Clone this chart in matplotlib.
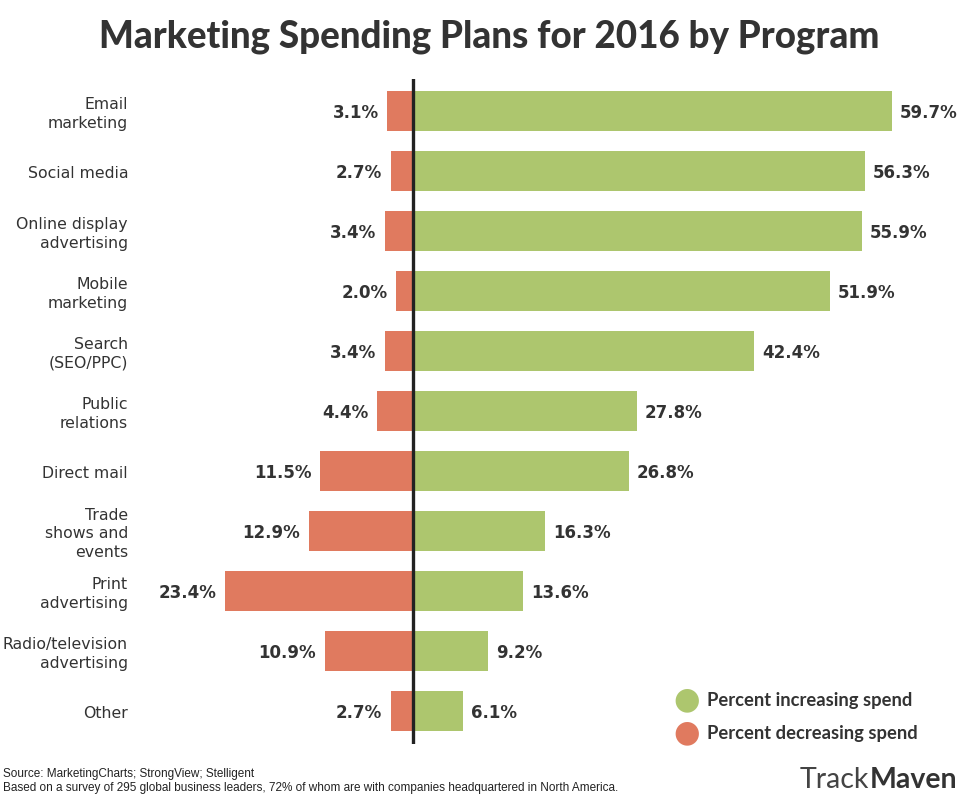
import matplotlib
matplotlib.use("Agg")
import matplotlib.pyplot as plt

categories = ["Email\nmarketing", "Social media", "Online display\nadvertising", "Mobile\nmarketing",
              "Search\n(SEO/PPC)", "Public\nrelations", "Direct mail", "Trade\nshows and\nevents",
              "Print\nadvertising", "Radio/television\nadvertising", "Other"]
increasing = [59.7, 56.3, 55.9, 51.9, 42.4, 27.8, 26.8, 16.3, 13.6, 9.2, 6.1]
decreasing = [3.1, 2.7, 3.4, 2.0, 3.4, 4.4, 11.5, 12.9, 23.4, 10.9, 2.7]

GREEN = "#adc66e"
RED = "#e07a5f"
TXT = "#333333"

W, H = 978, 804
fig = plt.figure(figsize=(W / 100, H / 100), dpi=100)
fig.patch.set_facecolor("white")

ax_l, ax_r, ax_t, ax_b = 200, 960, 80, 745
ax = fig.add_axes([ax_l / W, 1 - ax_b / H, (ax_r - ax_l) / W, (ax_b - ax_t) / H])
scale = 8.0
ax.set_xlim((ax_l - 413) / scale, (ax_r - 413) / scale)
ax.set_ylim((ax_b - 112) / 60, (ax_t - 112) / 60)
for s in ax.spines.values():
    s.set_visible(False)
ax.set_xticks([])
ax.set_yticks([])

ypos = list(range(len(categories)))
ax.barh(ypos, increasing, height=0.67, color=GREEN, left=0.2)
ax.barh(ypos, [-d for d in decreasing], height=0.67, color=RED, left=-0.1)
ax.axvline(0, color="#222222", lw=2.4, zorder=5)

for y, v in zip(ypos, increasing):
    ax.text(v + 1.2, y + 0.02, f"{v:.1f}%", ha="left", va="center", fontsize=12,
            fontweight="bold", color=TXT)
for y, v in zip(ypos, decreasing):
    ax.text(-v - 1.2, y + 0.02, f"{v:.1f}%", ha="right", va="center", fontsize=12,
            fontweight="bold", color=TXT)

for y, c in zip(ypos, categories):
    fig.text(128 / W, 1 - (114 + 60 * y) / H, c, ha="right", va="center",
             fontsize=11.3, color=TXT, linespacing=1.28)

# title
fig.text(0.5, 1 - 37 / H, "Marketing Spending Plans for 2016 by Program", ha="center",
         va="center", fontsize=26.5, fontweight=900, family="Lato", color=TXT)

# legend
fig.text(687 / W, 1 - 700 / H, "●", ha="center", va="center", fontsize=22, color=GREEN)
fig.text(687 / W, 1 - 733 / H, "●", ha="center", va="center", fontsize=22, color=RED)
fig.text(707 / W, 1 - 701 / H, "Percent increasing spend", ha="left", va="center",
         fontsize=13.2, fontweight="bold", family="Lato", color=TXT)
fig.text(707 / W, 1 - 734 / H, "Percent decreasing spend", ha="left", va="center",
         fontsize=13.2, fontweight="bold", family="Lato", color=TXT)

# footer
fig.text(3 / W, 1 - 774 / H, "Source: MarketingCharts; StrongView; Stelligent", ha="left",
         va="center", fontsize=8.5, color="#222222", family="Liberation Sans")
fig.text(3 / W, 1 - 788 / H,
         "Based on a survey of 295 global business leaders, 72% of whom are with companies headquartered in North America.",
         ha="left", va="center", fontsize=8.5, color="#222222", family="Liberation Sans")

t1 = fig.text(800 / W, 1 - 780 / H, "Track", ha="left", va="center", fontsize=20.5,
              color="#444444", family="Lato", fontweight="normal")
fig.canvas.draw()
bb = t1.get_window_extent()
fig.text(bb.x1 / W, 1 - 780 / H, "Maven", ha="left", va="center", fontsize=20.5,
         color="#333333", family="Lato", fontweight="bold")

fig.savefig("out.png", dpi=100)
